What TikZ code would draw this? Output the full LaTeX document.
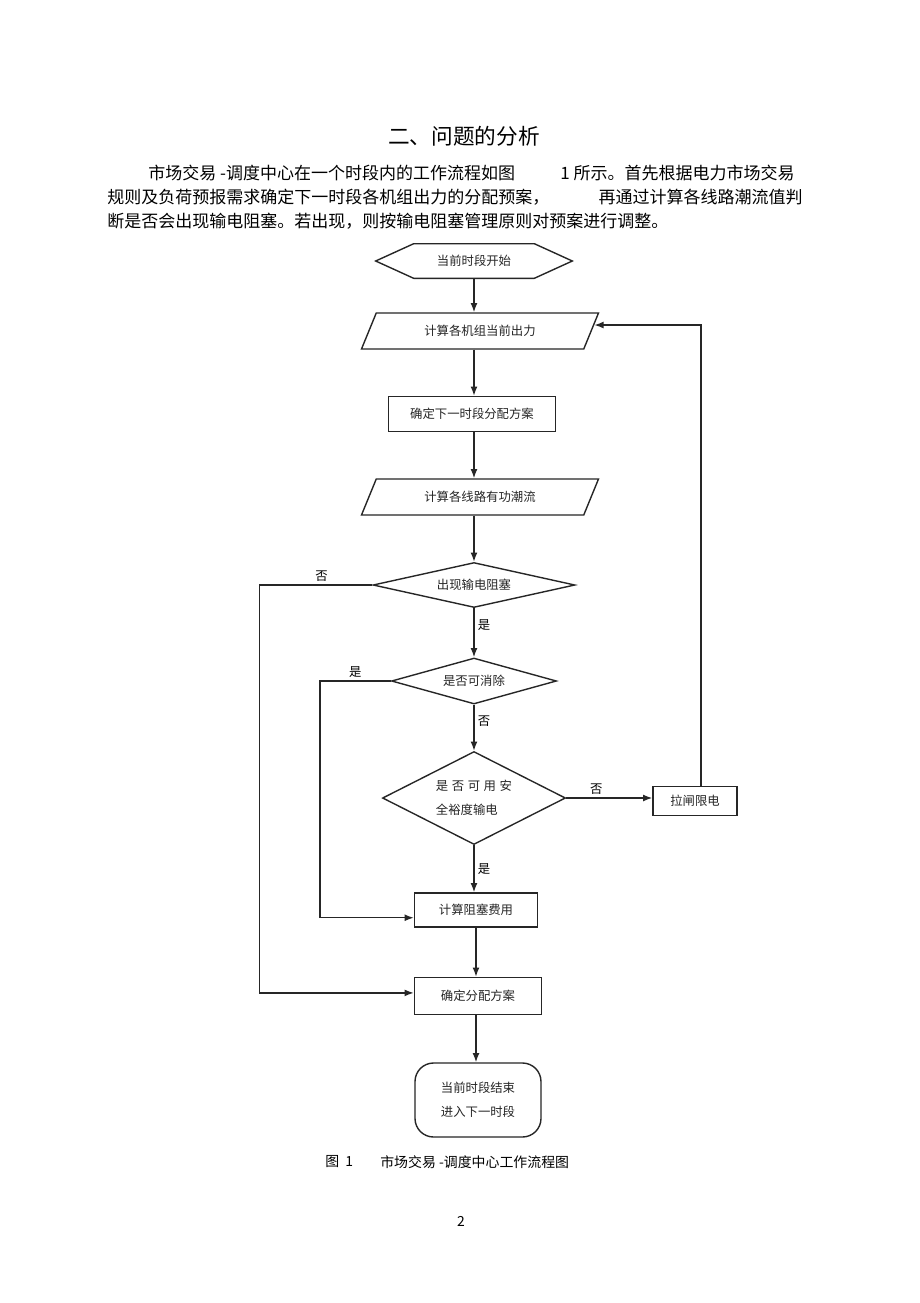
\documentclass[tikz,border=0pt]{standalone}
\usepackage{fontspec}
\setmainfont{Noto Sans CJK SC}
\usetikzlibrary{shapes.geometric,arrows.meta}

\def\upx{0.647pt}

\tikzset{
  line/.style={draw=black!85, line width=0.9pt},
  arr/.style={line, -{Latex[length=6pt,width=4.5pt]}},
  flow/.style={font=\fontsize{8}{15.5}\selectfont, inner sep=0pt, text=black!85},
  body/.style={font=\fontsize{11}{13}\selectfont, inner sep=0pt},
  lbl/.style={font=\fontsize{8}{10}\selectfont, inner sep=2pt},
  hexa/.style={flow, minimum width=196*\upx, minimum height=34*\upx},
  para/.style={flow, line, trapezium, trapezium left angle=38, trapezium right angle=142,
    trapezium stretches body, minimum width=237*\upx, minimum height=36*\upx},
  box/.style 2 args={flow, line, rectangle, minimum width=#1*\upx, minimum height=#2*\upx},
  decision/.style={flow, line, diamond},
  term/.style={flow, line, rectangle, rounded corners=12pt,
    minimum width=126*\upx, minimum height=74*\upx, align=center}
}

\begin{document}
\begin{tikzpicture}[x=0.647pt, y=-0.647pt]
   \fill[white] (0,0) rectangle (920,1303);
   \useasboundingbox (0,0) rectangle (920,1303);

   % heading and paragraph
   \node[font=\fontsize{14}{16}\selectfont, inner sep=0pt] (title) at (464,136) {二、问题的分析};
   \node[body, anchor=west] (line1a) at (148,173) {市场交易 -调度中心在一个时段内的工作流程如图};
   \node[body, anchor=east] (line1b) at (795,173) {1 所示。首先根据电力市场交易};
   \node[body, anchor=west] (line2a) at (107,197) {规则及负荷预报需求确定下一时段各机组出力的分配预案，};
   \node[body, anchor=east] (line2b) at (803,197) {再通过计算各线路潮流值判};
   \node[body, anchor=west] (line3) at (107,221) {断是否会出现输电阻塞。若出现，则按输电阻塞管理原则对预案进行调整。};

   % flow chart
   \node[hexa] (start) at (474,261) {当前时段开始};
   \draw[line] (start.west) -- ([xshift=38*\upx]start.north west) -- ([xshift=-38*\upx]start.north east)
      -- (start.east) -- ([xshift=-38*\upx]start.south east) -- ([xshift=38*\upx]start.south west) -- cycle;
   \node[para] (calcgen) at (480,331) {计算各机组当前出力};
   \node[box={167}{35}] (plannext) at (472,414) {确定下一时段分配方案};
   \node[para] (calcflow) at (480,497) {计算各线路有功潮流};
   \node[decision, aspect=4.49, minimum width=202*\upx, minimum height=45*\upx] (jam) at (474,585) {出现输电阻塞};
   \node[decision, aspect=3.59, minimum width=165*\upx, minimum height=46*\upx] (clear) at (474,681) {是否可消除};
   \node[decision, aspect=1.97, minimum width=183*\upx, minimum height=93*\upx, align=left] (margin) at (474,798)
      {是\hspace{2.3pt}否\hspace{2.3pt}可\hspace{2.3pt}用\hspace{2.3pt}安\\全裕度输电};
   \node[box={84}{29}] (cut) at (695,801) {拉闸限电};
   \node[box={123}{34}] (cost) at (476,910) {计算阻塞费用};
   \node[box={127}{37}] (plan) at (478,996) {确定分配方案};
   \node[term] (stop) at (478,1100) {当前时段结束\\进入下一时段};

   \draw[arr] (start.south) -- (start.south |- calcgen.north);
   \draw[arr] (calcgen.south -| start.south) -- (start.south |- plannext.north);
   \draw[arr] (plannext.south -| start.south) -- (start.south |- calcflow.north);
   \draw[arr] (calcflow.south -| start.south) -- (jam.north);
   \draw[arr] (jam.south) -- node[lbl, right, pos=0.35] {是} (clear.north);
   \draw[arr] (clear.south) -- node[lbl, right, pos=0.35] {否} (margin.north);
   \draw[arr] (margin.south) -- node[lbl, right] {是} (margin.south |- cost.north);
   \draw[arr] (cost.south) -- (cost.south |- plan.north);
   \draw[arr] (plan.south -| cost.south) -- (cost.south |- stop.north);
   \draw[arr] (margin.east) -- node[lbl, above, pos=0.35] {否} (margin.east -| cut.west);
   \draw[arr] ([xshift=4pt]cut.north) |- (calcgen.3);
   \draw[arr] (jam.west) -- node[lbl, above, pos=0.45] {否} ++(-113,0) |- ([yshift=2pt]plan.west);
   \draw[arr] (clear.west) -- node[lbl, above] {是} ++(-71,0) |- ([yshift=-5pt]cost.west);

   % caption and page number
   \node[font=\fontsize{9}{11}\selectfont, inner sep=0pt, anchor=west] (fignum) at (325,1162) {图~~1};
   \node[font=\fontsize{9}{11}\selectfont, inner sep=0pt, anchor=west] (figtitle) at (380,1162) {市场交易~-调度中心工作流程图};
   \node[font=\fontsize{9}{11}\selectfont, inner sep=0pt] (pagenum) at (461,1221) {2};
\end{tikzpicture}
\end{document}
